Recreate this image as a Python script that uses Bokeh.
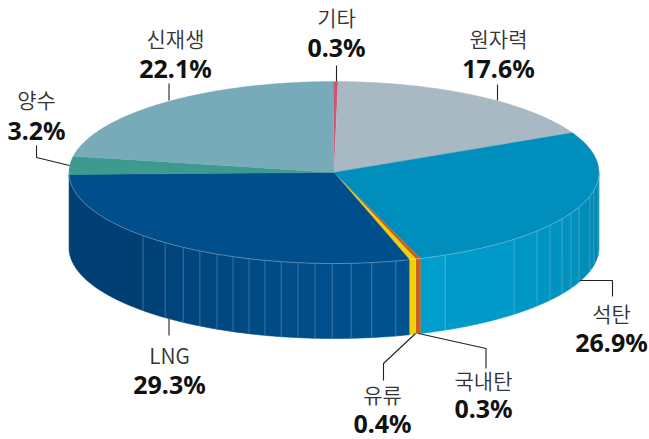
import math
from bokeh.plotting import figure
from bokeh.embed import file_html
from bokeh.resources import INLINE
from bokeh.core.properties import value

names = ["기타", "원자력", "석탄", "국내탄", "유류", "LNG", "양수", "신재생"]
shares = [0.3, 17.6, 26.9, 0.3, 0.4, 29.3, 3.2, 22.1]
share_labels = ["0.3%", "17.6%", "26.9%", "0.3%", "0.4%", "29.3%", "3.2%", "22.1%"]
top_colors = ["#d0546f", "#a9b9c3", "#008fbc", "#c8601e", "#f0d000", "#004e8c", "#3d9a8e", "#77abb9"]
seams_coal = [95, 101.2, 105, 112.4, 116.6, 120.6, 125.4, 130, 137.2, 155.2]
seams_lng = [166.5, 171.8, 176.3, 180.4, 184.1, 187.8, 191.5, 195.1, 198.7, 202.4, 206.2, 210.4, 214.7, 219.6, 226.1]
side_stops = {
    "석탄": [(90, "#0085ad"), (125, "#0094c2"), (162, "#009fce")],
    "LNG": [(164, "#005291"), (190, "#004c88"), (226, "#004177"), (270, "#003c6e")],
    "국내탄": [(0, "#c8601e"), (360, "#c8601e")],
    "유류": [(0, "#f0d000"), (360, "#f0d000")],
}

CX, CY, RX, RY, DEPTH = 333.5, 172.0, 265.0, 91.0, 75.0
START = -0.2
total = sum(shares)


def pt(deg, dy=0.0):
    r = math.radians(deg)
    return CX + RX * math.sin(r), CY - RY * math.cos(r) + dy


def arc(a0, a1, dy=0.0):
    n = max(2, int(abs(a1 - a0) * 2) + 2)
    return [pt(a0 + (a1 - a0) * i / (n - 1), dy) for i in range(n)]


def mix(stops, deg):
    if deg <= stops[0][0]:
        return stops[0][1]
    for (d0, c0), (d1, c1) in zip(stops, stops[1:]):
        if deg <= d1:
            t = (deg - d0) / (d1 - d0)
            a = [int(c0[i:i + 2], 16) for i in (1, 3, 5)]
            b = [int(c1[i:i + 2], 16) for i in (1, 3, 5)]
            return "#%02x%02x%02x" % tuple(round(u + (v - u) * t) for u, v in zip(a, b))
    return stops[-1][1]


p = figure(width=649, height=439, x_range=(0, 649), y_range=(439, 0),
           output_backend="svg", toolbar_location=None, min_border=0,
           outline_line_color=None, background_fill_color="white")
p.axis.visible = False
p.grid.visible = False

edges = [START]
for s in shares:
    edges.append(edges[-1] + s / total * 360)
span = {n: (edges[i], edges[i + 1]) for i, n in enumerate(names)}

all_seams = sorted(seams_coal + seams_lng)
for name, stops in side_stops.items():
    a0, a1 = span[name]
    a0, a1 = max(a0, 90), min(a1, 270)
    cuts = [a0] + [s for s in all_seams if a0 < s < a1] + [a1]
    thin = a1 - a0 < 3
    for u0, u1 in zip(cuts, cuts[1:]):
        up = arc(u0, u1)
        dn = arc(u1, u0, DEPTH)
        col = mix(stops, (u0 + u1) / 2)
        p.patch([q[0] for q in up + dn], [q[1] for q in up + dn],
                fill_color=col, line_color=None if thin else col, line_width=0.6)

for d in seams_coal + seams_lng:
    a = pt(d)
    b = pt(d, DEPTH)
    p.line([a[0], b[0]], [a[1], b[1]], line_color="#ffffff", line_alpha=0.22, line_width=1)

for i, name in enumerate(names):
    a0, a1 = edges[i], edges[i + 1]
    pts = [(CX, CY)] + arc(a0, a1)
    thin = a1 - a0 < 3
    p.patch([q[0] for q in pts], [q[1] for q in pts], fill_color=top_colors[i],
            line_color=None if thin else top_colors[i], line_width=0.4)

rim = arc(90, 270)
p.line([q[0] for q in rim], [q[1] for q in rim], line_color="#ffffff", line_alpha=0.3, line_width=1)

leaders = [
    ([336, 336], [65, 81]),
    ([497, 497], [84, 100]),
    ([168.5, 168.5], [83, 100]),
    ([36, 36, 69], [145, 157, 165]),
    ([579, 612, 612], [280, 280, 296]),
    ([418, 485.5, 485.5], [333, 348, 368]),
    ([415, 383, 383], [333, 363, 380]),
    ([168.5, 168.5], [318, 335]),
]
for xs, ys in leaders:
    p.line(xs, ys, line_color="#222222", line_width=1.1)

label_pos = {
    "기타": (336, 16.5, 46),
    "원자력": (498, 37.5, 67),
    "석탄": (611, 312.5, 341),
    "국내탄": (483, 379.5, 407),
    "유류": (382, 393, 422),
    "LNG": (169, 354.5, 383),
    "양수": (36, 98.5, 129),
    "신재생": (175, 37.5, 67),
}
for i, name in enumerate(names):
    x, y0, y1 = label_pos[name]
    p.text([x], [y0], text=[name], text_font=value("Noto Sans CJK KR DemiLight"), text_font_size="21px",
           text_color="#333333", text_align="center", text_baseline="middle")
    p.text([x], [y1], text=[share_labels[i]], text_font=value("Noto Sans"), text_font_size="25px",
           text_font_style="bold", text_color="#111111", text_align="center", text_baseline="middle")

open("out.html", "w").write(file_html(p, INLINE))
